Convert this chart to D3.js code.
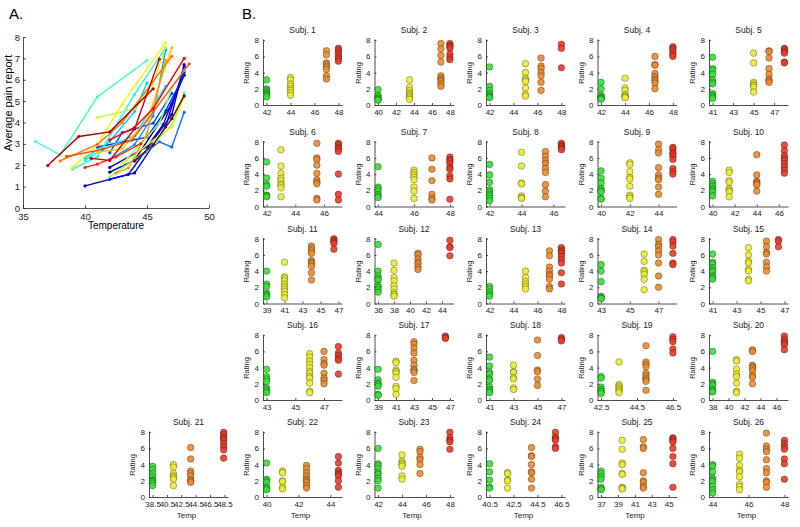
<!DOCTYPE html>
<html><head><meta charset="utf-8">
<script src="https://cdn.jsdelivr.net/npm/d3@7"></script>
<style>
body{margin:0;background:#fff;}
svg{font-family:"Liberation Sans",Arial,sans-serif;}
.ax path,.ax line{stroke:#222;stroke-width:0.8;}
.ax text{fill:#222;}
</style></head>
<body><svg id="c" width="800" height="527"></svg>
<script>
// ---------- DATA ----------
const subjectNames = d3.range(1, 27).map(i => "Subj. " + i);
const temps = [
  [42,44,47,48],[40,43.5,47,48],[42,45,46.3,48],[42,44,46.5,48],[41,45,46.5,48],
  [42,43,45.5,47],[44,46,47,48],[42,44,45.5,46.5],[40,42,44,45],[40,41.5,44,46.5],
  [39,41,44,46.5],[36,38,41,45],[42,45,47,48],[43,46,47,48],[41,44,45.5,46.5],
  [43,46,47,48],[39,41,43,46.5],[41,43,45,47],[42.5,43.5,45,46.5],[38,41,43,47],
  [38.5,41.4,43.8,48.4],[40,41,42.5,44.5],[42,44,45.5,48],[40.5,42,44,46],[37,39.5,42,45.5],[44,45.5,47,48]
];
const xTicks = [
  [42,44,46,48],[40,42,44,46,48],[42,44,46,48],[42,44,46,48],[41,43,45,47],
  [42,44,46],[44,46,48],[42,44,46],[40,42,44],[40,42,44,46],
  [39,41,43,45,47],[36,38,40,42,44],[42,44,46,48],[43,45,47],[41,43,45,47],
  [43,45,47],[39,41,43,45,47],[41,43,45,47],[42.5,44.5,46.5],[38,40,42,44,46],
  [38.5,40.5,42.5,44.5,46.5,48.5],[40,42,44],[42,44,46,48],[40.5,42.5,44.5,46.5],[37,39,41,43,45],[44,46,48]
];
const greenRatings = [
  [3.1,2.0,1.8,1.6,1.4,1.3,1.2,1.0],[1.9,1.2,1.0,0.8,0.7,0.6],[4.7,2.3,1.8,1.4,1.2,1.0,0.9],[2.8,2.0,1.2,1.0,0.9,0.8,0.7],[5.9,4.5,4.3,3.8,3.1,2.8,2.6,1.4,1.2,1.0,0.8],
  [5.5,3.5,2.7,2.5,1.4,1.3,1.2],[4.9,2.4,2.2,1.9,1.5,1.3,1.1],[5.2,3.9,3.0,2.1,1.8,1.5,1.3,1.0,0.7],[4.4,3.5,2.9,2.2,2.0,1.8,1.0,0.9],[3.1,2.8,2.5,2.2,2.0,1.8,1.3],
  [4.0,2.4,2.1,1.3,1.1,1.0,0.8],[7.3,4.0,3.4,3.1,2.9,2.2,2.0,1.7,1.4],[2.1,1.8,1.4,1.1,0.9],[4.8,4.0,2.7,0.9,0.8,0.7,0.6],[6.1,5.1,4.9,4.4,4.1,3.9,3.4,3.2,3.0],
  [3.8,2.9,2.6,2.3,1.5,1.3,1.1,0.9],[3.8,2.5,2.1,1.9,1.7,0.7,0.6],[5.3,4.2,3.4,3.2,2.6,2.4,1.6,1.3,1.1,0.9],[2.9,2.7,1.6,1.3,1.1,1.0,0.8],[6.0,2.2,2.0,1.8,1.3,1.1,1.0],
  [3.8,3.4,2.9,2.5,2.1,2.0,1.9,1.7,1.4],[4.2,2.2,2.0,1.8,1.2,1.0,0.9],[6.0,4.1,3.9,3.5,3.0,2.8,2.3,2.0,1.1],[4.1,3.1,2.1,1.2,1.1],[3.2,2.9,2.5,2.2,1.2,1.0,0.9],[4.0,3.8,3.1,2.3,2.1,1.9,1.3,0.9,0.5]
];
const yellowRatings = [
  [3.4,3.1,2.6,2.3,2.0,1.8,1.5,1.2],[3.1,2.2,1.8,1.5,1.3,1.1,0.9,0.7],[5.1,4.0,3.3,3.1,2.9,2.1,1.3,1.1],[3.3,2.1,1.8,1.3,1.1,1.0,0.9],[6.4,5.2,2.8,2.6,2.4,2.2,1.6],
  [7.0,5.0,4.1,3.5,3.2,2.8,2.6,2.3,1.2],[4.5,4.2,3.9,3.6,3.3,2.4,1.9,1.0],[6.7,5.0,2.9,2.8,1.3,1.1,1.0],[5.4,5.2,4.3,3.6,3.4,2.5,1.4,1.2,1.0],[4.5,4.2,3.2,3.0,2.2,2.0,1.8,1.2],
  [5.1,3.3,3.1,2.8,2.4,2.1,1.8,1.5,1.1,0.7],[5.0,4.1,3.2,2.8,2.2,1.8,1.3,1.1,0.9],[4.0,3.2,2.7,2.4,2.1,1.8],[6.1,5.2,4.1,3.9,3.6,3.0,1.7],[6.9,6.0,5.2,5.0,4.2,4.0,3.0,2.8],
  [5.7,5.3,4.8,4.4,4.0,3.5,3.3,2.9,2.7,2.1,1.1,0.9],[4.8,4.6,3.7,3.5,3.3,2.8,1.7,1.4,0.7],[4.3,3.5,3.4,2.8,2.6,1.5,1.3],[4.7,1.9,1.7,1.5,1.3,1.1,0.9],[5.0,4.8,3.8,3.2,2.9,2.1,1.1,0.9],
  [4.0,3.7,2.9,2.6,2.4,2.2,1.4],[3.2,3.0,2.0,1.9,1.2,1.0],[5.2,4.4,4.2,4.0,3.8,2.6,2.2],[3.0,2.9,2.1,2.0,1.1],[7.0,5.9,4.2,4.0,2.9,2.8,1.2,1.1,1.0],[5.3,4.8,3.9,3.3,3.1,2.5,1.6,1.3,0.9]
];
const orangeRatings = [
  [6.7,6.2,5.2,5.0,4.7,4.4,3.6,3.2],[7.6,6.9,6.1,5.3,3.6,3.3,3.1,2.9,2.6,2.3],[5.8,4.8,4.5,4.0,3.6,2.8,1.8],[6.0,5.0,4.9,3.9,3.5,3.2,3.0,2.7,2.0],[6.7,6.6,5.8,4.5,3.8,3.2,3.0,2.8],
  [7.8,6.0,5.8,5.1,4.1,3.3,3.0,2.8,1.0,0.8],[6.0,4.6,3.2,1.5,1.0,0.8],[6.8,6.2,5.7,5.3,4.7,4.2,2.7,1.9,1.2],[7.7,7.0,6.6,4.8,3.9,3.5,3.3,2.4,1.5],[6.4,3.9,3.1,3.0,2.8,2.7,1.9],
  [7.1,6.8,6.5,6.2,5.3,5.1,4.9,4.6,3.8,2.9],[6.2,6.0,5.5,5.1,4.9,4.5,4.2],[6.5,5.9,4.5,4.0,3.6,3.4,3.0,2.1,1.8],[7.9,7.3,7.0,6.5,6.0,5.0,3.4,2.0],[7.7,7.0,6.3,6.1,5.1,4.5,4.0],
  [6.0,5.0,4.5,4.3,3.3,2.7,2.4,2.0],[7.2,6.9,6.4,5.8,4.9,4.3,3.8,3.6,3.4,2.4],[7.4,5.5,3.7,3.5,2.6,1.8],[6.7,4.7,4.4,4.1,3.3,3.0,2.7,2.5,2.3,1.2],[6.2,6.0,4.3,4.1,3.9,3.6,3.0,2.8,2.0],
  [6.1,4.7,3.2,2.9,2.6,2.1,2.0,1.8],[3.9,3.5,3.0,2.6,2.2,2.0,1.8,1.4,1.1],[5.9,5.6,4.9,4.6,4.0,2.9],[6.1,5.1,5.0,4.0,3.1,3.0,2.2,1.1],[7.1,6.2,6.0,3.0,2.0,1.8,1.3,1.1],[7.9,6.3,5.9,5.6,4.6,3.5,3.0,2.0,1.8,1.2]
];
const redRatings = [
  [7.0,6.8,6.5,6.2,5.9,5.7,5.4],[7.6,7.4,7.2,7.0,6.3,5.9,5.6],[7.5,7.0,4.6],[7.2,7.0,6.8,6.5,6.2,6.0],[7.0,6.8,6.6,6.4,5.3,5.2],
  [7.8,7.6,7.3,7.1,6.8,4.0,1.5,0.8],[6.1,5.8,5.6,5.3,4.8,4.6,3.8,3.4,0.9],[7.8,7.6,7.4,7.2,7.0],[7.3,7.1,6.7,6.5,6.2,5.8,4.7,4.3,4.0],[7.6,6.9,6.3,6.0,5.7,5.3,4.9,4.5,4.1],
  [8.0,7.8,7.6,7.4,6.7],[7.8,7.0,6.9,5.9],[6.9,6.6,6.4,6.2,5.8,5.4,5.0,3.8,2.4],[7.9,7.6,7.1,6.2,5.0,4.8],[7.9,7.7,7.0],
  [6.6,5.8,5.5,5.1,4.9,3.2],[7.9,7.7,7.6],[7.7,7.5,7.3],[7.8,7.5,7.2,6.3,5.8],[7.9,7.5,7.2,7.0,6.8,6.2],
  [8.0,7.7,7.4,7.2,7.0,6.6,6.2,5.8,4.8],[5.0,4.2,3.3,3.0,2.8,2.6,2.0,1.2],[8.0,7.3,7.0,6.8,5.9],[8.0,7.4,7.2,7.0,6.2,6.0],[7.3,7.2,7.0,6.8,6.0,5.0,4.1,1.2],[7.0,6.6,6.2,5.9,4.7,4.1,2.2]
];
const levelColors = ["#35df35", "#ecec2e", "#ec8a2c", "#ec3a26"];
const panelAXTicks = [35, 40, 45, 50];
const panelAYTicks = [0,1,2,3,4,5,6,7,8];
const ratingTicks = [0, 2, 4, 6, 8];

// ---------- helpers ----------
function jet(t){
  const c = v => Math.max(0, Math.min(1, v));
  const r = c(1.5 - Math.abs(4*t - 3)), g = c(1.5 - Math.abs(4*t - 2)), b = c(1.5 - Math.abs(4*t - 1));
  return d3.rgb(r*255, g*255, b*255).formatHex();
}
const svg = d3.select("#c");
const levels = [greenRatings, yellowRatings, orangeRatings, redRatings];

// ---------- Panel A ----------
const ax = d3.scaleLinear().domain([35, 50]).range([23, 209]);
const ay = d3.scaleLinear().domain([0, 8]).range([208, 37]);
const gA = svg.append("g");
gA.append("text").attr("x", 9).attr("y", 19).attr("font-size", 15).text("A.");
gA.append("g").attr("class","ax").attr("transform","translate(0,208)")
  .call(d3.axisBottom(ax).tickValues(panelAXTicks).tickSizeInner(-3).tickSizeOuter(0).tickPadding(5))
  .selectAll("text").attr("font-size", 9.5);
gA.append("g").attr("class","ax").attr("transform","translate(23,0)")
  .call(d3.axisLeft(ay).tickValues(panelAYTicks).tickSizeInner(-3).tickSizeOuter(0).tickPadding(3))
  .selectAll("text").attr("font-size", 9.5);
gA.append("text").attr("x", 116).attr("y", 229).attr("text-anchor","middle").attr("font-size", 10).text("Temperature");
gA.append("text").attr("transform","translate(12,103) rotate(-90)").attr("text-anchor","middle").attr("font-size", 11).text("Average pain report");
const line = d3.line().x(d => ax(d[0])).y(d => ay(d[1]));
temps.forEach((tt, i) => {
  const pts = tt.map((t, k) => [t, d3.mean(levels[k][i])]);
  const col = jet(i / 25);
  gA.append("path").attr("d", line(pts)).attr("fill","none").attr("stroke", col).attr("stroke-width", 1.4);
  gA.selectAll(null).data(pts).enter().append("circle")
    .attr("cx", d => ax(d[0])).attr("cy", d => ay(d[1])).attr("r", 1.6).attr("fill", col);
});

// ---------- Panel B ----------
svg.append("text").attr("x", 242).attr("y", 19).attr("font-size", 15).text("B.");
const colX = [149, 263, 374.5, 486, 597.5, 709];
const rowBottom = [105, 206.5, 303.5, 400, 497];
const W = 79, H = 66;
temps.forEach((tt, i) => {
  let r, c;
  if (i < 20) { r = Math.floor(i/5); c = i % 5 + 1; }
  else if (i === 20) { r = 4; c = 0; }
  else { r = 4; c = i - 20; }
  const x0 = colX[c], yb = rowBottom[r];
  const ticks = xTicks[i];
  const lo = Math.min(tt[0], ticks[0]), hi = Math.max(tt[3], ticks[ticks.length-1]);
  const pad = 0.05 * (hi - lo);
  const x = d3.scaleLinear().domain([lo - pad, hi + pad]).range([x0, x0 + W]);
  const y = d3.scaleLinear().domain([0, 8.15]).range([yb, yb - H]);
  const g = svg.append("g");
  g.append("g").attr("class","ax").attr("transform",`translate(0,${yb})`)
    .call(d3.axisBottom(x).tickValues(ticks).tickFormat(d3.format("")).tickSizeInner(-2).tickSizeOuter(0).tickPadding(4))
    .selectAll("text").attr("font-size", 8);
  g.append("g").attr("class","ax").attr("transform",`translate(${x0},0)`)
    .call(d3.axisLeft(y).tickValues(ratingTicks).tickSizeInner(-2).tickSizeOuter(0).tickPadding(4))
    .selectAll("text").attr("font-size", 8);
  g.append("text").attr("x", x0 + W/2).attr("y", yb - H - 6).attr("text-anchor","middle")
    .attr("font-size", 8.5).attr("fill","#222").text(subjectNames[i]);
  g.append("text").attr("transform",`translate(${x0 - 14},${yb - 32}) rotate(-90)`).attr("text-anchor","middle")
    .attr("font-size", 7.5).attr("fill","#222").text("Rating");
  if (r === 4) {
    g.append("text").attr("x", x0 + W/2 - 2).attr("y", yb + 21).attr("text-anchor","middle")
      .attr("font-size", 8).attr("fill","#222").text("Temp");
  }
  levels.forEach((lv, k) => {
    g.selectAll(null).data(lv[i]).enter().append("circle")
      .attr("cx", x(tt[k])).attr("cy", d => y(d)).attr("r", 3.3)
      .attr("fill", levelColors[k]).attr("fill-opacity", 0.9)
      .attr("stroke", "#000").attr("stroke-opacity", 0.38).attr("stroke-width", 0.8);
  });
});
</script></body></html>
